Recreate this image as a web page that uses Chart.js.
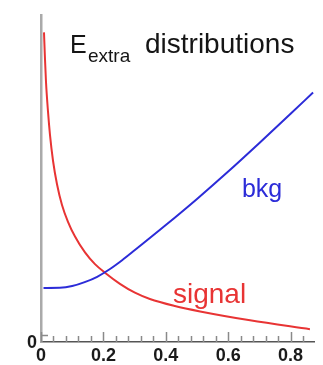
<!DOCTYPE html>
<html>
<head>
<meta charset="utf-8">
<script src="https://cdn.jsdelivr.net/npm/chart.js@4"></script>
<style>
  html, body { margin: 0; padding: 0; background: #fff; }
  #wrap { width: 323px; height: 365px; }
</style>
</head>
<body>
<div id="wrap"><canvas id="c" width="323" height="365"></canvas></div>
<script>
// E_extra distributions for signal and background (arbitrary units)
const signalX = [0.0096, 0.0128, 0.016, 0.0224, 0.0288, 0.0385, 0.0513, 0.0673, 0.0865, 0.109, 0.141, 0.173, 0.205, 0.253, 0.301, 0.349, 0.429, 0.510, 0.670, 0.862];
const signalY = [100.7, 91.8, 84.3, 74.4, 66.6, 58.0, 50.2, 43.3, 37.7, 32.8, 27.5, 23.6, 20.75, 17.05, 14.1, 12.0, 9.67, 7.87, 4.92, 1.97];

const bkgX = [0.008, 0.06, 0.10, 0.14, 0.18, 0.22, 0.26, 0.30, 0.40, 0.50, 0.60, 0.70, 0.80, 0.872];
const bkgY = [15.7, 15.75, 16.3, 17.6, 19.4, 21.9, 24.9, 28.2, 36.6, 45.3, 54.4, 63.9, 73.6, 80.7];

const xTickValues = [0, 0.2, 0.4, 0.6, 0.8];
const xTickLabels = ['0', '0.2', '0.4', '0.6', '0.8'];
const xMinorStep = 0.04;
const yTickValues = [0];
const yTickLabels = ['0'];

const FONT = '"Liberation Sans", Arial, Helvetica, sans-serif';
const RED = 'rgb(232,52,52)';
const BLUE = 'rgb(44,44,216)';

const toPoints = (xs, ys) => xs.map((x, i) => ({ x, y: ys[i] }));

// Inward tick marks, title and curve labels
const decorations = {
  id: 'decorations',
  afterDraw(chart) {
    const { ctx, chartArea, scales: { x, y } } = chart;
    ctx.save();

    // x-axis ticks pointing up into the plot
    ctx.strokeStyle = '#8a8a8a';
    ctx.lineWidth = 1.5;
    const nMinor = Math.floor(x.max / xMinorStep + 1e-9);
    for (let i = 0; i <= nMinor; i++) {
      const v = i * xMinorStep;
      const px = Math.round(x.getPixelForValue(v)) + 0.5;
      const major = i % 5 === 0;
      ctx.beginPath();
      ctx.moveTo(px, chartArea.bottom);
      ctx.lineTo(px, chartArea.bottom - (major ? 10 : 6));
      ctx.stroke();
    }
    // y-axis tick
    yTickValues.forEach(v => {
      const py = Math.round(y.getPixelForValue(v)) + 0.5;
      ctx.beginPath();
      ctx.moveTo(chartArea.left, py);
      ctx.lineTo(chartArea.left + 7, py);
      ctx.stroke();
    });

    // title: E_extra distributions
    ctx.fillStyle = '#151515';
    ctx.textBaseline = 'alphabetic';
    ctx.textAlign = 'left';
    ctx.font = '25px ' + FONT;
    ctx.fillText('E', 70, 53);
    ctx.font = '19px ' + FONT;
    ctx.fillText('extra', 88, 62);
    ctx.font = '28px ' + FONT;
    ctx.fillText('distributions', 145, 53);

    // curve labels placed in data coordinates
    ctx.fillStyle = BLUE;
    ctx.font = '25px ' + FONT;
    ctx.fillText('bkg', x.getPixelForValue(0.644), y.getPixelForValue(45.9));
    ctx.fillStyle = RED;
    ctx.font = '28px ' + FONT;
    ctx.fillText('signal', x.getPixelForValue(0.423), y.getPixelForValue(10.8));

    ctx.restore();
  }
};

new Chart(document.getElementById('c'), {
  type: 'line',
  data: {
    datasets: [
      {
        label: 'bkg',
        data: toPoints(bkgX, bkgY),
        borderColor: BLUE,
        borderWidth: 2,
        pointRadius: 0,
        cubicInterpolationMode: 'monotone',
        fill: false
      },
      {
        label: 'signal',
        data: toPoints(signalX, signalY),
        borderColor: RED,
        borderWidth: 2,
        pointRadius: 0,
        cubicInterpolationMode: 'monotone',
        fill: false
      }
    ]
  },
  options: {
    responsive: false,
    animation: false,
    devicePixelRatio: 1,
    layout: { padding: { left: 0, right: 9, top: 10, bottom: 0 } },
    plugins: {
      legend: { display: false },
      title: { display: false },
      tooltip: { enabled: false }
    },
    scales: {
      x: {
        type: 'linear',
        min: 0,
        max: 0.875,
        afterBuildTicks: s => { s.ticks = xTickValues.map(v => ({ value: v })); },
        afterFit: s => { s.height = 23; },
        ticks: {
          callback: (v, i) => xTickLabels[i],
          font: { family: FONT, size: 18, weight: 'bold' },
          color: '#1a1a1a',
          padding: 3,
          maxRotation: 0,
          autoSkip: false
        },
        grid: { display: false, drawTicks: false },
        border: { display: true, color: '#555', width: 1.5 }
      },
      y: {
        type: 'linear',
        min: -2.3,
        max: 106.55,
        afterBuildTicks: s => { s.ticks = yTickValues.map(v => ({ value: v })); },
        afterFit: s => { s.width = 41; },
        ticks: {
          callback: (v, i) => yTickLabels[i],
          font: { family: FONT, size: 18, weight: 'bold' },
          color: '#1a1a1a',
          padding: 4,
          labelOffset: 8
        },
        grid: { display: false, drawTicks: false },
        border: { display: true, color: '#aaa', width: 2.5 }
      }
    }
  },
  plugins: [decorations]
});
</script>
</body>
</html>
